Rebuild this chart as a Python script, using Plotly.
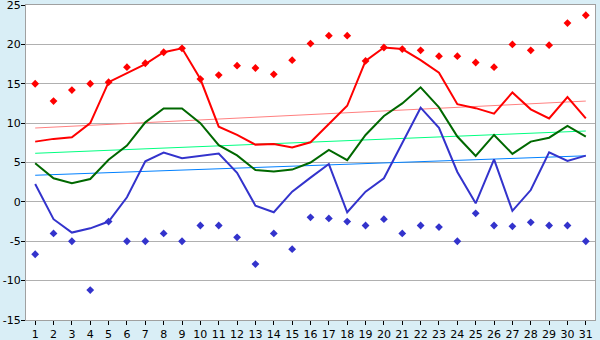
import plotly.graph_objects as go

days = list(range(1, 32))
y_ticks = [-15, -10, -5, 0, 5, 10, 15, 20, 25]

max_line = [7.65, 8.0, 8.2, 10.0, 15.2, 16.3, 17.5, 19.0, 19.5, 15.6, 9.55, 8.5, 7.27, 7.35, 6.9, 7.57,
            9.9, 12.2, 17.9, 19.6, 19.4, 18.0, 16.4, 12.4, 11.9, 11.2, 13.9, 11.75, 10.6, 13.3, 10.6]
max_pts = [15.0, 12.8, 14.2, 15.0, 15.2, 17.1, 17.6, 19.0, 19.5, 15.6, 16.1, 17.3, 17.0, 16.2, 18.0, 20.1,
           21.1, 21.1, 17.9, 19.6, 19.4, 19.25, 18.5, 18.5, 17.7, 17.1, 20.0, 19.25, 19.9, 22.7, 23.7]
mean_line = [4.9, 3.0, 2.36, 2.9, 5.35, 7.15, 10.1, 11.85, 11.85, 10.0, 7.2, 5.9, 4.05, 3.85, 4.1, 5.0,
             6.6, 5.3, 8.5, 10.9, 12.5, 14.55, 12.0, 8.3, 5.83, 8.5, 6.1, 7.65, 8.15, 9.64, 8.3]
min_line = [2.27, -2.2, -3.9, -3.36, -2.5, 0.58, 5.15, 6.25, 5.53, 5.85, 6.13, 3.7, -0.48, -1.32, 1.3, 3.08,
            4.8, -1.32, 1.3, 3.0, 7.5, 11.96, 9.4, 3.8, -0.18, 5.4, -1.15, 1.5, 6.3, 5.2, 5.87]
min_pts = [-6.65, -4.0, -5.0, -11.2, -2.5, -5.0, -5.0, -4.0, -5.0, -3.0, -3.0, -4.5, -7.9, -4.0, -6.0, -1.96,
           -2.1, -2.5, -3.0, -2.2, -4.0, -3.0, -3.2, -5.0, -1.45, -3.0, -3.1, -2.6, -3.0, -3.0, -5.0]
trend_days = [1, 31]
max_trend = [9.38, 12.8]
mean_trend = [6.17, 9.0]
min_trend = [3.38, 5.85]

fig = go.Figure()
fig.add_trace(go.Scatter(x=trend_days, y=max_trend, mode="lines", line=dict(color="#ff8080", width=1)))
fig.add_trace(go.Scatter(x=trend_days, y=mean_trend, mode="lines", line=dict(color="#00ff80", width=1)))
fig.add_trace(go.Scatter(x=trend_days, y=min_trend, mode="lines", line=dict(color="#0080ff", width=1)))
fig.add_trace(go.Scatter(x=days, y=max_line, mode="lines", line=dict(color="#ff0000", width=2)))
fig.add_trace(go.Scatter(x=days, y=mean_line, mode="lines", line=dict(color="#006800", width=2)))
fig.add_trace(go.Scatter(x=days, y=min_line, mode="lines", line=dict(color="#3333cc", width=2)))
fig.add_trace(go.Scatter(x=days, y=max_pts, mode="markers",
                         marker=dict(symbol="diamond", size=6, color="#ff0000", line=dict(width=0))))
fig.add_trace(go.Scatter(x=days, y=min_pts, mode="markers",
                         marker=dict(symbol="diamond", size=6, color="#3333cc", line=dict(width=0))))

fig.update_layout(
    width=600, height=340,
    margin=dict(l=26, r=5, t=5, b=20, autoexpand=False),
    paper_bgcolor="#d9eef6",
    plot_bgcolor="#ffffff",
    showlegend=False,
    font=dict(family="DejaVu Sans", size=11, color="#000000"),
)
fig.update_xaxes(range=[0.5, 31.5], tickvals=days, ticktext=[str(d) for d in days],
                 showgrid=False, zeroline=False, showline=True, linecolor="#a0a0a0", linewidth=1,
                 mirror=True, ticks="outside", ticklen=4, tickcolor="#000000", automargin=False,
                 ticklabelstandoff=0)
fig.update_yaxes(range=[-15, 25], tickvals=y_ticks, ticktext=[str(v) for v in y_ticks],
                 showgrid=True, gridcolor="#b0b0b0", gridwidth=1,
                 zeroline=False, showline=True, linecolor="#a0a0a0", linewidth=1, mirror=True,
                 ticks="outside", ticklen=4, tickcolor="#000000", automargin=False,
                 ticklabelstandoff=-2, ticklabeloverflow="allow")

fig.write_html("out.html", config={"displayModeBar": False, "staticPlot": True},
               post_script="document.body.style.margin='0';document.body.style.overflow='hidden';")
